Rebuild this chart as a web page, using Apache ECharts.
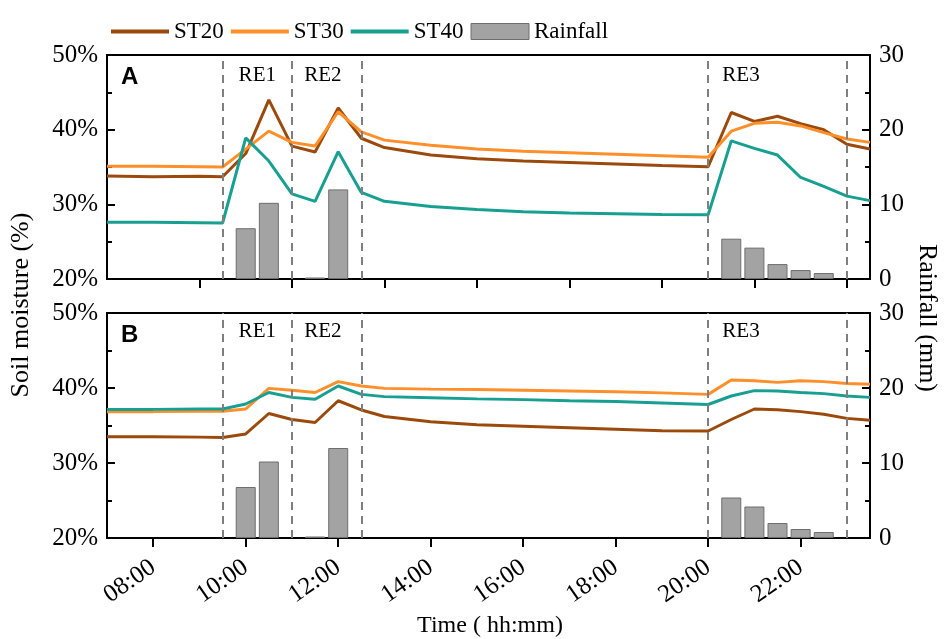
<!DOCTYPE html>
<html>
<head>
<meta charset="utf-8">
<script src="https://cdn.jsdelivr.net/npm/echarts@6/dist/echarts.min.js"></script>
<style>
  html, body { margin: 0; padding: 0; background: #fff; }
  #chart { width: 944px; height: 639px; }
</style>
</head>
<body>
<div id="chart"></div>
<script>
  // time of each reading, hours
  const times = [7, 8, 9, 9.5, 10, 10.5, 11, 11.5, 12, 12.5, 13, 14, 15, 16, 17, 18, 19, 20, 20.5, 21, 21.5, 22, 22.5, 23, 23.5];

  // panel A soil moisture (%)
  const st20A = [33.8, 33.7, 33.75, 33.7, 36.8, 44.0, 37.8, 37.0, 42.9, 38.85, 37.6, 36.6, 36.1, 35.8, 35.6, 35.4, 35.2, 35.05, 42.3, 41.1, 41.8, 40.8, 40.0, 38.05, 37.4];
  const st30A = [35.1, 35.1, 35.05, 35.0, 37.4, 39.8, 38.3, 37.8, 42.4, 39.7, 38.6, 37.9, 37.4, 37.1, 36.9, 36.7, 36.5, 36.3, 39.8, 40.85, 41.0, 40.5, 39.6, 38.75, 38.3];
  const st40A = [27.6, 27.6, 27.55, 27.5, 38.9, 35.8, 31.4, 30.4, 37.05, 31.6, 30.4, 29.7, 29.3, 29.0, 28.85, 28.75, 28.65, 28.6, 38.5, 37.5, 36.6, 33.6, 32.4, 31.1, 30.5];

  // panel B soil moisture (%)
  const st20B = [33.5, 33.5, 33.45, 33.4, 33.87, 36.6, 35.8, 35.4, 38.3, 37.07, 36.2, 35.5, 35.1, 34.9, 34.7, 34.5, 34.3, 34.27, 35.8, 37.2, 37.1, 36.85, 36.5, 35.95, 35.7];
  const st30B = [36.85, 36.85, 36.9, 36.9, 37.2, 39.95, 39.7, 39.4, 40.85, 40.27, 39.95, 39.85, 39.8, 39.7, 39.6, 39.5, 39.35, 39.15, 41.07, 40.98, 40.75, 40.98, 40.85, 40.6, 40.5];
  const st40B = [37.15, 37.15, 37.2, 37.2, 37.87, 39.4, 38.75, 38.5, 40.27, 39.15, 38.85, 38.7, 38.55, 38.45, 38.3, 38.2, 38.0, 37.8, 38.93, 39.65, 39.6, 39.4, 39.25, 38.93, 38.75];

  // rainfall (mm)
  const rainTimes = [10, 10.5, 11.5, 12, 20.5, 21, 21.5, 22, 22.5];
  const rainfall = [6.8, 10.2, 0.2, 12.0, 5.4, 4.2, 2.0, 1.2, 0.8];

  // rain events
  const eventBounds = [9.5, 11, 12.5, 20, 23];
  const eventNames = ['RE1', 'RE2', 'RE3'];

  // axis ticks
  const labelHours = [8, 10, 12, 14, 16, 18, 20, 22];
  const topTickHours = [9, 11, 13, 15, 17, 19, 21, 23];
  const moistureTicks = [20, 30, 40, 50];
  const rainTicks = [0, 10, 20, 30];

  const colors = { st20: '#9b4a0c', st30: '#ff8f2b', st40: '#17a091' };
  const serif = '"Liberation Serif", "Times New Roman", serif';
  const lineIcon = 'path://M0,0 L60,0 L60,4 L0,4 Z';

  let myChart = echarts.init(document.getElementById('chart'));

  function pairs(xs, ys) {
    return xs.map((x, i) => [x, ys[i]]);
  }

  function hhmm(h) {
    return (h < 10 ? '0' : '') + h + ':00';
  }

  let grids = [
    { left: 107, top: 55, width: 763, height: 224 },
    { left: 107, top: 313, width: 763, height: 225 }
  ].map(g => Object.assign(g, { show: true, borderColor: '#000', borderWidth: 2, backgroundColor: 'transparent' }));

  function xAxisFor(idx, ticks, withLabels) {
    return {
      type: 'value', gridIndex: idx, min: 7, max: 23.5,
      axisLine: { lineStyle: { color: '#000', width: 2 } },
      axisTick: { show: true, customValues: ticks, length: 9, lineStyle: { color: '#000', width: 2 } },
      axisLabel: {
        show: withLabels, customValues: labelHours, rotate: 35, margin: 27,
        formatter: v => hhmm(v),
        fontFamily: serif, fontSize: 25, color: '#000'
      },
      splitLine: { show: false }
    };
  }

  function yAxisFor(idx, ticks, pos, suffix) {
    return {
      type: 'value', gridIndex: idx, position: pos,
      min: ticks[0], max: ticks[ticks.length - 1], interval: ticks[1] - ticks[0],
      axisLine: { show: true, lineStyle: { color: '#000', width: 2 } },
      axisTick: { show: true, inside: true, length: 8, lineStyle: { color: '#000', width: 2 } },
      minorTick: { show: true, splitNumber: 2, length: 5, lineStyle: { color: '#000', width: 2 } },
      axisLabel: { formatter: '{value}' + suffix, fontFamily: serif, fontSize: 25, color: '#000', margin: 9 },
      splitLine: { show: false }
    };
  }

  function lineSeries(name, data, color, g) {
    return {
      name: name, type: 'line', xAxisIndex: g, yAxisIndex: g * 2,
      data: pairs(times, data), symbol: 'none', smooth: false,
      lineStyle: { color: color, width: 3 }, itemStyle: { color: color },
      z: 3
    };
  }

  function barSeries(g, labelY) {
    let labelX = [10.25, 11.67, 20.71];
    return {
      name: 'Rainfall', type: 'bar', xAxisIndex: g, yAxisIndex: g * 2 + 1,
      data: pairs(rainTimes, rainfall), barWidth: 20,
      itemStyle: { color: '#a3a3a3', borderColor: '#6e6e6e', borderWidth: 1 },
      z: 2,
      markLine: {
        silent: true, symbol: ['none', 'none'], label: { show: false },
        lineStyle: { color: '#7f7f7f', width: 2, type: [8, 6] },
        data: eventBounds.map(v => ({ xAxis: v }))
      },
      markPoint: {
        silent: true, symbol: 'circle', symbolSize: 1,
        itemStyle: { color: 'transparent' },
        label: { show: true, position: 'inside', formatter: '{b}', fontFamily: serif, fontSize: 21, color: '#000' },
        data: eventNames.map((n, i) => ({ name: n, coord: [labelX[i], labelY] }))
      }
    };
  }

  let option = {
    animation: false,
    backgroundColor: '#fff',
    legend: {
      left: 106, top: 15, itemWidth: 58, itemHeight: 16, itemGap: 7,
      textStyle: { fontFamily: serif, fontSize: 23, color: '#000' },
      data: [
        { name: 'ST20', icon: lineIcon },
        { name: 'ST30', icon: lineIcon },
        { name: 'ST40', icon: lineIcon },
        { name: 'Rainfall', icon: 'rect', itemStyle: { color: '#a3a3a3', borderColor: '#6e6e6e', borderWidth: 1 } }
      ]
    },
    title: [
      { text: 'A', left: 116, top: 60, textStyle: { fontFamily: '"Liberation Sans", Arial, sans-serif', fontWeight: 'bold', fontSize: 24, color: '#000' } },
      { text: 'B', left: 116, top: 318, textStyle: { fontFamily: '"Liberation Sans", Arial, sans-serif', fontWeight: 'bold', fontSize: 24, color: '#000' } }
    ],
    grid: grids,
    xAxis: [xAxisFor(0, topTickHours, false), xAxisFor(1, labelHours, true)],
    yAxis: [
      yAxisFor(0, moistureTicks, 'left', '%'),
      yAxisFor(0, rainTicks, 'right', ''),
      yAxisFor(1, moistureTicks, 'left', '%'),
      yAxisFor(1, rainTicks, 'right', '')
    ],
    graphic: [
      { type: 'text', x: 21, y: 305, rotation: Math.PI / 2,
        style: { text: 'Soil moisture (%)', font: '26px ' + serif, fill: '#000', textAlign: 'center', textVerticalAlign: 'middle' } },
      { type: 'text', x: 927, y: 318, rotation: -Math.PI / 2,
        style: { text: 'Rainfall (mm)', font: '26px ' + serif, fill: '#000', textAlign: 'center', textVerticalAlign: 'middle' } },
      { type: 'text', x: 490, y: 626,
        style: { text: 'Time ( hh:mm)', font: '24px ' + serif, fill: '#000', textAlign: 'center', textVerticalAlign: 'middle' } }
    ],
    series: [
      barSeries(0, 27.3),
      lineSeries('ST20', st20A, colors.st20, 0),
      lineSeries('ST30', st30A, colors.st30, 0),
      lineSeries('ST40', st40A, colors.st40, 0),
      barSeries(1, 27.5),
      lineSeries('ST20', st20B, colors.st20, 1),
      lineSeries('ST30', st30B, colors.st30, 1),
      lineSeries('ST40', st40B, colors.st40, 1)
    ]
  };

  myChart.setOption(option);
</script>
</body>
</html>
